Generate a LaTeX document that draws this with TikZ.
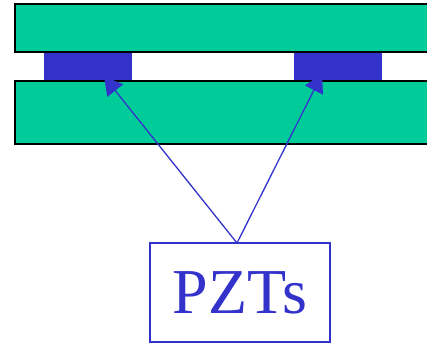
\documentclass[tikz,border=0pt]{standalone}
\usepackage{fontspec}
\setmainfont{Liberation Serif}
\usetikzlibrary{arrows.meta}
\definecolor{pztblue}{HTML}{3333CC}
\definecolor{plate}{HTML}{00CC99}
\begin{document}
\begin{tikzpicture}[x=1pt,y=-1pt,
  platestyle/.style={draw=black,line width=1.5pt,fill=plate},
  pzt/.style={fill=pztblue,draw=none},
  conn/.style={draw=pztblue,line width=1.3pt,-{Triangle[length=18pt,width=20pt]}},
  labelbox/.style={draw=pztblue,line width=1.2pt,text=pztblue,font=\fontsize{64}{70}\selectfont,minimum width=180pt,minimum height=99pt,inner sep=0pt}]
\clip (0,0) rectangle (427,346);
\fill[white] (0,0) rectangle (427,346);
\path[platestyle] (15,4) rectangle (440,52);
\path[platestyle] (15,81) rectangle (440,144);
\path[pzt] (44,52.8) rectangle (132,80.2);
\path[pzt] (294,52.8) rectangle (382,80.2);
\coordinate (p1) at (104,76.5);
\coordinate (p2) at (322,74);
\node[labelbox] (box) at (240,292.5) {PZTs};
\coordinate (s) at (237,243);
\draw[conn] (s) -- (p1);
\draw[conn] (s) -- (p2);
\end{tikzpicture}
\end{document}
